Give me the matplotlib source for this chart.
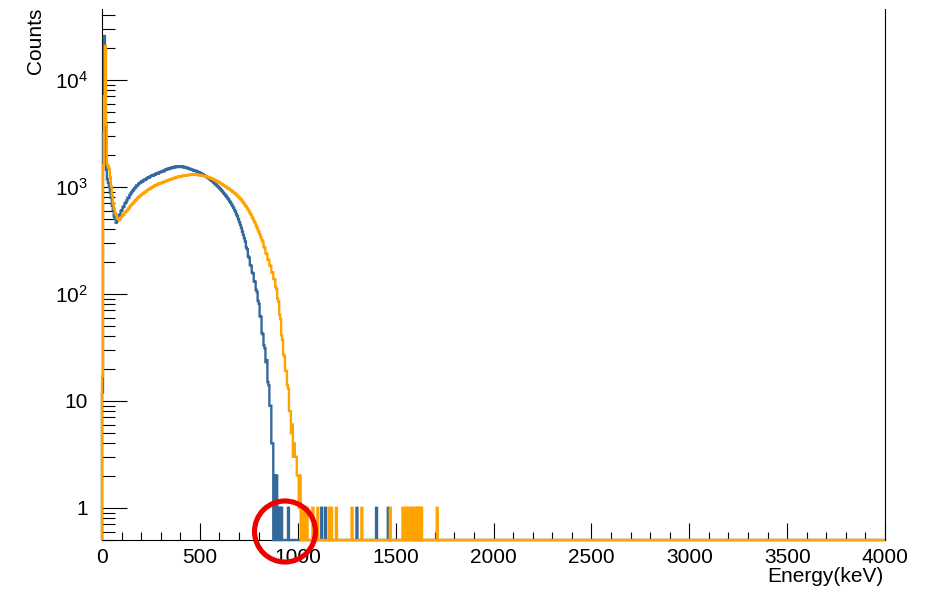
import numpy as np
import matplotlib
matplotlib.use("Agg")
import matplotlib.pyplot as plt
from matplotlib.patches import Ellipse
from matplotlib.ticker import MultipleLocator, LogLocator, FuncFormatter, NullFormatter

plt.rcParams["font.family"] = ["Liberation Sans", "DejaVu Sans"]
plt.rcParams["mathtext.fontset"] = "custom"
plt.rcParams["mathtext.rm"] = "Liberation Sans"
plt.rcParams["mathtext.it"] = "Liberation Sans:italic"
plt.rcParams["mathtext.bf"] = "Liberation Sans:bold"

# Histogram binning: 5 keV bins over 0-4000 keV
bin_width = 5
e_max = 4000

# Counts per 5 keV bin, 0-1050 keV (first spectrum)
counts_a = [
    12, 3200, 25700, 5200, 1450, 1180, 1090, 1010, 880, 790,
    670, 610, 530, 505, 462, 478, 497, 538, 552, 596,
    607, 648, 655, 701, 712, 748, 792, 786, 838, 862,
    895, 918, 947, 975, 991, 1032, 1028, 1071, 1084, 1098,
    1127, 1118, 1152, 1170, 1161, 1196, 1210, 1232, 1219, 1258,
    1266, 1283, 1270, 1305, 1296, 1330, 1341, 1326, 1368, 1380,
    1372, 1401, 1415, 1398, 1437, 1452, 1471, 1456, 1493, 1480,
    1512, 1498, 1530, 1517, 1548, 1526, 1541, 1559, 1532, 1550,
    1538, 1556, 1527, 1543, 1512, 1530, 1497, 1508, 1479, 1466,
    1472, 1441, 1450, 1426, 1412, 1420, 1391, 1398, 1365, 1372,
    1344, 1331, 1318, 1302, 1289, 1261, 1254, 1228, 1216, 1187,
    1179, 1152, 1140, 1108, 1097, 1063, 1051, 1029, 1005, 991,
    962, 944, 918, 897, 871, 852, 826, 807, 779, 763,
    731, 712, 686, 661, 637, 608, 586, 553, 529, 497,
    468, 441, 413, 382, 356, 331, 309, 272, 262, 224,
    218, 186, 183, 158, 156, 131, 130, 109, 104, 86,
    81, 62, 61, 43, 42, 33, 31, 23, 24, 15,
    14, 9, 9, 4, 4, 0, 2, 0, 2, 1,
    0, 1, 0, 1, 0, 0, 0, 0, 0, 0,
    1, 0, 0, 0, 0, 0, 0, 0, 0, 0,
    0, 0, 0, 0, 0, 0, 0, 0, 0, 0,
]

# Counts per 5 keV bin, 0-1050 keV (second spectrum)
counts_b = [
    17, 1600, 7000, 20800, 3800, 1620, 1560, 1480, 1230, 1010,
    830, 705, 628, 571, 548, 512, 503, 489, 497, 521,
    528, 556, 549, 578, 583, 601, 612, 631, 648, 672,
    681, 703, 712, 738, 749, 768, 789, 796, 818, 832,
    845, 861, 870, 893, 901, 912, 934, 940, 958, 965,
    981, 994, 1003, 1021, 1028, 1046, 1042, 1063, 1071, 1080,
    1092, 1089, 1107, 1112, 1125, 1131, 1140, 1158, 1152, 1171,
    1180, 1186, 1201, 1196, 1214, 1222, 1230, 1246, 1238, 1255,
    1261, 1252, 1270, 1276, 1268, 1284, 1279, 1293, 1288, 1301,
    1294, 1306, 1298, 1309, 1296, 1305, 1291, 1302, 1287, 1294,
    1281, 1286, 1270, 1275, 1258, 1261, 1243, 1247, 1229, 1226,
    1208, 1211, 1190, 1184, 1169, 1158, 1147, 1130, 1121, 1103,
    1094, 1072, 1064, 1046, 1032, 1018, 1004, 991, 973, 962,
    948, 931, 920, 901, 893, 871, 862, 840, 829, 806,
    792, 771, 758, 731, 716, 694, 671, 655, 632, 611,
    590, 566, 547, 521, 503, 478, 461, 436, 418, 395,
    377, 356, 336, 318, 306, 275, 268, 240, 236, 208,
    209, 184, 182, 159, 158, 138, 137, 116, 111, 90,
    85, 64, 58, 41, 37, 27, 26, 19, 19, 14,
    13, 8, 8, 5, 6, 3, 4, 3, 3, 2,
    2, 1, 2, 0, 1, 1, 0, 1, 0, 1,
]

# Isolated single-count bins above 1050 keV (lower bin edges, keV)
singles_a = [1120, 1140, 1300, 1400, 1460]
singles_b = [1075, 1100, 1160, 1170, 1195, 1275, 1325, 1470, 1535,
             1550, 1560, 1575, 1585, 1600, 1610, 1620, 1630, 1710]

y_min, y_max = 0.5, 4.6e4

color_a = "#35689B"
color_b = "#FFA300"


def full_histogram(main, singles):
    n_bins = e_max // bin_width
    h = np.zeros(n_bins)
    h[:len(main)] = main
    for e in singles:
        h[e // bin_width] = 1
    return h


edges = np.arange(0, e_max + bin_width, bin_width)
hist_a = full_histogram(counts_a, singles_a)
hist_b = full_histogram(counts_b, singles_b)

fig = plt.figure(figsize=(9.38, 5.92), dpi=100)
ax = fig.add_axes([102 / 938, 1 - 540 / 592, 783 / 938, 531 / 592])

# Empty bins sit on the bottom edge of the frame
for h, c in ((hist_a, color_a), (hist_b, color_b)):
    ax.stairs(np.maximum(h, y_min), edges, baseline=y_min, color=c,
              lw=1.7, zorder=3, clip_on=False)

ax.set_yscale("log")
ax.set_xlim(0, e_max)
ax.set_ylim(y_min, y_max)

ax.spines["top"].set_visible(False)
for s in ("left", "bottom", "right"):
    ax.spines[s].set_linewidth(0.8)
    ax.spines[s].set_color("black")

ax.xaxis.set_major_locator(MultipleLocator(500))
ax.xaxis.set_minor_locator(MultipleLocator(100))
ax.yaxis.set_major_locator(LogLocator(base=10, numticks=10))
ax.yaxis.set_minor_locator(LogLocator(base=10, subs=np.arange(2, 10), numticks=20))
ax.yaxis.set_minor_formatter(NullFormatter())


def log_label(v, pos):
    k = int(round(np.log10(v)))
    if k == 0:
        return "1"
    if k == 1:
        return "10"
    return r"$10^{%d}$" % k


ax.yaxis.set_major_formatter(FuncFormatter(log_label))
ax.xaxis.set_major_formatter(FuncFormatter(lambda v, p: "%d" % v))

ax.tick_params(axis="x", which="major", direction="in", length=12.2, width=0.8,
               pad=5.5, labelsize=15, top=False)
ax.tick_params(axis="x", which="minor", direction="in", length=6, width=0.8, top=False)
ax.tick_params(axis="y", which="major", direction="in", length=18, width=0.8,
               pad=10, labelsize=15, right=False)
ax.tick_params(axis="y", which="minor", direction="in", length=9.4, width=0.8, right=False)

fig.text(35 / 938, 1 - 8 / 592, "Counts", rotation=90, ha="center", va="top", fontsize=15)
fig.text(883 / 938, 1 - 577 / 592, "Energy(keV)", ha="right", va="center", fontsize=15)

# Highlight ring around the end of the first spectrum
ring = Ellipse((285 / 938, 1 - 531.5 / 592), 61 / 938, 61 / 592,
               transform=fig.transFigure, fill=False, ec="#EE0000", lw=3.7, zorder=10)
fig.add_artist(ring)

fig.savefig("out.png", dpi=100)
